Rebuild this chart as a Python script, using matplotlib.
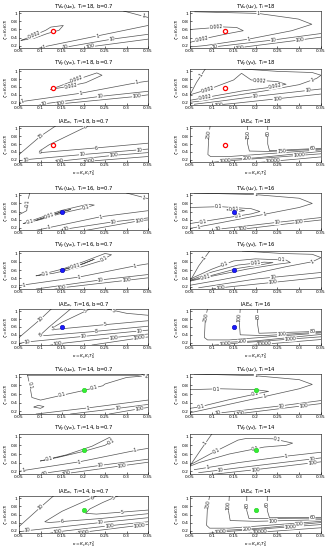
# Contour maps of TV and IAE measures for three tuning points (T_i = 18, 16, 14)
import numpy as np
import matplotlib
matplotlib.use("Agg")
import matplotlib.pyplot as plt

xticks = [0.05, 0.1, 0.15, 0.2, 0.25, 0.3, 0.35]
xtick_labels = ['0.05', '0.1', '0.15', '0.2', '0.25', '0.3', '0.35']
yticks = [0.2, 0.4, 0.6, 0.8, 1.0]
ytick_labels = ['0.2', '0.4', '0.6', '0.8', '1']

# tuning points marked in each group
points = {18: (0.13, 0.57), 16: (0.15, 0.60), 14: (0.20, 0.70)}

# each contour: (level text, x points, y points, label spots)
p1_lines = [
    ('0.002', [0.055, 0.082, 0.112, 0.124, 0.153, 0.143, 0.116, 0.085, 0.055],
     [0.33, 0.44, 0.58, 0.66, 0.70, 0.58, 0.50, 0.38, 0.33], [(0.085, 0.46)]),
    ('1', [0.085, 0.108, 0.232, 0.35], [0.10, 0.17, 0.44, 0.70], [(0.108, 0.18), (0.232, 0.44)]),
    ('10', [0.143, 0.158, 0.266, 0.35], [0.10, 0.16, 0.36, 0.48], [(0.158, 0.17), (0.266, 0.36)]),
    ('100', [0.193, 0.216, 0.35], [0.10, 0.17, 0.36], [(0.216, 0.17)]),
    ('1', [0.293, 0.35], [1.06, 0.90], [(0.338, 0.93)]),
]
p2_lines = [
    ('1', [0.061, 0.206, 0.298, 0.329, 0.283, 0.184, 0.084, 0.054],
     [1.04, 1.0, 0.86, 0.73, 0.57, 0.36, 0.20, 0.17], [(0.206, 1.0), (0.184, 0.36)]),
    ('0.002', [0.05, 0.126, 0.157, 0.172, 0.138, 0.077, 0.05],
     [0.60, 0.664, 0.65, 0.57, 0.50, 0.36, 0.28], [(0.11, 0.66), (0.077, 0.36)]),
    ('10', [0.092, 0.107, 0.241, 0.35], [0.12, 0.17, 0.34, 0.50], [(0.107, 0.17), (0.241, 0.34)]),
    ('100', [0.145, 0.164, 0.302, 0.35], [0.10, 0.15, 0.34, 0.41], [(0.164, 0.16), (0.302, 0.34)]),
]
p3_lines = [
    ('0.002', [0.124, 0.185, 0.231, 0.243, 0.205, 0.162, 0.124],
     [0.54, 0.79, 0.96, 0.90, 0.71, 0.61, 0.54], [(0.185, 0.79), (0.17, 0.63)]),
    ('1', [0.05, 0.058, 0.193, 0.324, 0.35], [0.20, 0.23, 0.44, 0.71, 0.75],
     [(0.058, 0.23), (0.193, 0.44), (0.324, 0.71)]),
    ('10', [0.095, 0.108, 0.239, 0.35], [0.13, 0.17, 0.36, 0.49], [(0.108, 0.17), (0.239, 0.36)]),
    ('100', [0.13, 0.147, 0.324, 0.35], [0.12, 0.17, 0.36, 0.40], [(0.147, 0.17), (0.324, 0.36)]),
]
p4_lines = [
    ('1', [0.05, 0.065, 0.085], [0.40, 0.72, 1.06], [(0.075, 0.9)]),
    ('0.002', [0.05, 0.10, 0.15, 0.168, 0.19, 0.25, 0.27, 0.24, 0.17, 0.10, 0.05],
     [0.40, 0.57, 0.78, 0.95, 0.78, 0.74, 0.67, 0.60, 0.50, 0.36, 0.26],
     [(0.21, 0.765), (0.245, 0.61), (0.09, 0.54), (0.085, 0.33)]),
    ('1', [0.17, 0.25, 0.33, 0.35, 0.34, 0.30, 0.22, 0.14, 0.08, 0.05],
     [1.06, 1.0, 0.97, 0.90, 0.82, 0.66, 0.50, 0.36, 0.25, 0.21], [(0.33, 0.75)]),
    ('10', [0.06, 0.12, 0.2, 0.35], [0.16, 0.24, 0.36, 0.55], [(0.2, 0.36), (0.32, 0.51)]),
    ('100', [0.10, 0.15, 0.25, 0.35], [0.13, 0.18, 0.30, 0.42], [(0.115, 0.15), (0.25, 0.30)]),
]
p5_lines = [
    ('15', [0.05, 0.10, 0.135], [0.33, 0.80, 1.06], [(0.10, 0.80)]),
    ('6', [0.21, 0.12, 0.095, 0.10, 0.23, 0.35], [1.06, 0.58, 0.40, 0.38, 0.50, 0.62],
     [(0.205, 1.0), (0.23, 0.50), (0.097, 0.39)]),
    ('10', [0.05, 0.066, 0.197, 0.35], [0.17, 0.20, 0.33, 0.47],
     [(0.066, 0.2), (0.197, 0.33), (0.33, 0.45)]),
    ('100', [0.13, 0.143, 0.27, 0.35], [0.12, 0.16, 0.31, 0.38], [(0.143, 0.16), (0.27, 0.31)]),
    ('1000', [0.19, 0.212, 0.35], [0.11, 0.16, 0.28], [(0.212, 0.16)]),
]
p6_lines = [
    ('250', [0.096, 0.093, 0.091, 0.097, 0.14, 0.35], [1.06, 0.80, 0.33, 0.28, 0.28, 0.45], [(0.093, 0.85)]),
    ('150', [0.182, 0.182, 0.186, 0.23, 0.35], [1.06, 0.60, 0.42, 0.41, 0.47], [(0.182, 0.85), (0.26, 0.42)]),
    ('60', [0.228, 0.228, 0.232, 0.35], [1.06, 0.60, 0.43, 0.49], [(0.228, 0.87), (0.33, 0.48)]),
    ('200', [0.12, 0.2, 0.35], [0.20, 0.245, 0.41], [(0.18, 0.23)]),
    ('1000', [0.10, 0.13, 0.35], [0.13, 0.165, 0.35], [(0.13, 0.165), (0.3, 0.31)]),
    ('10000', [0.2, 0.24, 0.35], [0.12, 0.16, 0.27], [(0.24, 0.16)]),
]
p7_lines = [
    ('0.1', [0.075, 0.07, 0.068, 0.05], [1.06, 0.85, 0.62, 0.52], [(0.07, 0.82)]),
    ('0.1', [0.06, 0.10, 0.15, 0.21, 0.225, 0.20, 0.15, 0.10, 0.06],
     [0.30, 0.45, 0.63, 0.78, 0.76, 0.68, 0.56, 0.40, 0.30], [(0.205, 0.69), (0.075, 0.34)]),
    ('0.01', [0.09, 0.13, 0.15, 0.17, 0.15, 0.12, 0.09],
     [0.38, 0.53, 0.60, 0.65, 0.59, 0.48, 0.38], [(0.12, 0.51)]),
    ('1', [0.30, 0.35], [1.06, 0.92], [(0.34, 0.95)]),
    ('1', [0.085, 0.12, 0.24, 0.35], [0.12, 0.20, 0.47, 0.62], [(0.12, 0.20), (0.24, 0.47)]),
    ('10', [0.14, 0.16, 0.27, 0.35], [0.12, 0.165, 0.345, 0.44], [(0.16, 0.165), (0.27, 0.345)]),
    ('100', [0.2, 0.33, 0.35], [0.12, 0.37, 0.39], [(0.33, 0.37)]),
]
p8_lines = [
    ('1', [0.06, 0.2, 0.3, 0.33, 0.30, 0.22, 0.12, 0.06, 0.05],
     [1.06, 1.02, 0.93, 0.80, 0.70, 0.53, 0.32, 0.20, 0.18], [(0.2, 1.02), (0.22, 0.53), (0.07, 0.22)]),
    ('0.1', [0.05, 0.12, 0.19, 0.21, 0.19, 0.12, 0.05], [0.70, 0.72, 0.67, 0.60, 0.54, 0.42, 0.30],
     [(0.115, 0.72), (0.16, 0.49), (0.08, 0.36)]),
    ('0.01', [0.135, 0.16, 0.175, 0.16, 0.135], [0.64, 0.655, 0.62, 0.60, 0.64], [(0.15, 0.655)]),
    ('10', [0.10, 0.115, 0.25, 0.35], [0.12, 0.16, 0.33, 0.45], [(0.115, 0.16), (0.25, 0.33)]),
    ('100', [0.15, 0.17, 0.30, 0.35], [0.12, 0.16, 0.33, 0.39], [(0.17, 0.16), (0.30, 0.33)]),
]
p9_lines = [
    ('0.1', [0.09, 0.15, 0.2, 0.25, 0.265, 0.24, 0.19, 0.13, 0.09],
     [0.46, 0.62, 0.80, 1.0, 0.97, 0.82, 0.66, 0.52, 0.46], [(0.247, 0.87), (0.112, 0.49)]),
    ('0.01', [0.15, 0.19, 0.225, 0.20, 0.16, 0.15], [0.60, 0.72, 0.86, 0.75, 0.63, 0.60], [(0.18, 0.70)]),
    ('1', [0.05, 0.062, 0.19, 0.32, 0.35], [0.22, 0.24, 0.43, 0.70, 0.75],
     [(0.062, 0.24), (0.19, 0.43), (0.32, 0.70)]),
    ('10', [0.09, 0.24, 0.35], [0.14, 0.36, 0.49], [(0.24, 0.36)]),
    ('100', [0.13, 0.15, 0.30, 0.35], [0.13, 0.17, 0.35, 0.41], [(0.15, 0.17), (0.30, 0.35)]),
]
p10_lines = [
    ('1', [0.05, 0.07, 0.095], [0.33, 0.70, 1.06], [(0.082, 0.90)]),
    ('1', [0.17, 0.26, 0.33, 0.35, 0.33, 0.27, 0.2, 0.12, 0.06, 0.05],
     [1.06, 1.0, 0.98, 0.90, 0.80, 0.68, 0.52, 0.36, 0.25, 0.23], [(0.33, 0.80)]),
    ('0.1', [0.05, 0.10, 0.15, 0.20, 0.27, 0.28, 0.25, 0.18, 0.10, 0.05],
     [0.38, 0.62, 0.82, 0.87, 0.84, 0.78, 0.74, 0.62, 0.45, 0.33], [(0.13, 0.75), (0.26, 0.85)]),
    ('0.01', [0.05, 0.10, 0.16, 0.22, 0.24, 0.22, 0.16, 0.10, 0.05],
     [0.35, 0.55, 0.72, 0.79, 0.78, 0.74, 0.64, 0.47, 0.34], [(0.20, 0.77), (0.085, 0.43)]),
    ('10', [0.07, 0.2, 0.35], [0.17, 0.38, 0.54], [(0.24, 0.43)]),
    ('100', [0.1, 0.12, 0.24, 0.35], [0.14, 0.17, 0.30, 0.42], [(0.12, 0.17), (0.24, 0.30)]),
]
p11_lines = [
    ('10', [0.05, 0.10, 0.125], [0.33, 0.80, 1.06], [(0.10, 0.80)]),
    ('5', [0.215, 0.15, 0.125, 0.135, 0.25, 0.35], [1.06, 0.72, 0.56, 0.54, 0.66, 0.76],
     [(0.205, 1.0), (0.25, 0.66), (0.128, 0.56)]),
    ('5', [0.255, 0.30, 0.35], [1.06, 0.95, 0.90], [(0.27, 1.02)]),
    ('8', [0.17, 0.12, 0.10, 0.11, 0.22, 0.35], [1.06, 0.60, 0.40, 0.38, 0.48, 0.62],
     [(0.10, 0.40), (0.23, 0.49)]),
    ('10', [0.05, 0.07, 0.2, 0.35], [0.18, 0.22, 0.36, 0.52], [(0.07, 0.22), (0.2, 0.36), (0.33, 0.50)]),
    ('100', [0.12, 0.14, 0.27, 0.35], [0.13, 0.17, 0.33, 0.42], [(0.14, 0.17), (0.27, 0.33)]),
    ('1000', [0.22, 0.33, 0.35], [0.14, 0.32, 0.345], [(0.33, 0.32)]),
]
p12_lines = [
    ('250', [0.09, 0.085, 0.083, 0.09, 0.14, 0.35], [1.06, 0.80, 0.33, 0.27, 0.27, 0.45], [(0.085, 0.85)]),
    ('100', [0.165, 0.163, 0.165, 0.22, 0.35], [1.06, 0.70, 0.40, 0.38, 0.47], [(0.163, 0.84), (0.26, 0.41)]),
    ('80', [0.205, 0.205, 0.208, 0.35], [1.06, 0.65, 0.44, 0.49], [(0.205, 0.88), (0.33, 0.485)]),
    ('200', [0.12, 0.2, 0.35], [0.20, 0.245, 0.41], [(0.17, 0.23)]),
    ('1000', [0.10, 0.13, 0.35], [0.13, 0.165, 0.35], [(0.13, 0.165), (0.28, 0.29)]),
    ('10000', [0.18, 0.22, 0.35], [0.12, 0.16, 0.28], [(0.22, 0.16)]),
]
p13_lines = [
    ('0.1', [0.07, 0.075, 0.08, 0.10, 0.14, 0.20, 0.245, 0.25, 0.30, 0.335, 0.32, 0.07],
     [1.03, 0.80, 0.52, 0.46, 0.55, 0.68, 0.79, 0.83, 0.98, 1.01, 1.03, 1.03],
     [(0.075, 0.80), (0.15, 0.575), (0.225, 0.74)]),
    ('1', [0.335, 0.35], [1.06, 0.98], [(0.345, 1.0)]),
    ('0.1', [0.085, 0.10, 0.108, 0.095, 0.085], [0.30, 0.27, 0.31, 0.34, 0.30], []),
    ('1', [0.09, 0.21, 0.35], [0.14, 0.28, 0.46], [(0.21, 0.28)]),
    ('10', [0.17, 0.28, 0.35], [0.14, 0.27, 0.36], [(0.28, 0.27)]),
    ('100', [0.26, 0.33, 0.35], [0.14, 0.26, 0.29], [(0.33, 0.26)]),
]
p14_lines = [
    ('1', [0.06, 0.2, 0.3, 0.33, 0.30, 0.22, 0.12, 0.06, 0.05],
     [1.06, 1.02, 0.93, 0.82, 0.72, 0.54, 0.32, 0.19, 0.17], [(0.2, 1.02), (0.22, 0.54)]),
    ('0.1', [0.05, 0.12, 0.2, 0.23, 0.21, 0.14, 0.07, 0.05], [0.70, 0.72, 0.70, 0.66, 0.62, 0.47, 0.30, 0.27],
     [(0.11, 0.72), (0.2, 0.605), (0.075, 0.31)]),
    ('10', [0.10, 0.115, 0.26, 0.35], [0.12, 0.16, 0.33, 0.45], [(0.115, 0.16), (0.26, 0.33)]),
    ('100', [0.15, 0.165, 0.31, 0.35], [0.12, 0.15, 0.33, 0.38], [(0.165, 0.15), (0.31, 0.33)]),
]
p15_lines = [
    ('0.1', [0.10, 0.16, 0.22, 0.26, 0.27, 0.25, 0.20, 0.14, 0.10],
     [0.44, 0.58, 0.78, 0.98, 0.92, 0.80, 0.66, 0.52, 0.44], [(0.265, 0.90), (0.12, 0.48)]),
    ('1', [0.05, 0.06, 0.19, 0.32, 0.35], [0.20, 0.22, 0.42, 0.68, 0.73],
     [(0.06, 0.22), (0.19, 0.42), (0.32, 0.68)]),
    ('10', [0.10, 0.11, 0.24, 0.35], [0.12, 0.16, 0.34, 0.48], [(0.11, 0.16), (0.24, 0.34)]),
    ('100', [0.15, 0.16, 0.29, 0.35], [0.12, 0.15, 0.33, 0.41], [(0.16, 0.15), (0.29, 0.33)]),
]
p16_lines = [
    ('1', [0.05, 0.075, 0.10], [0.33, 0.70, 1.06], [(0.085, 0.85)]),
    ('0.1', [0.05, 0.10, 0.16, 0.18, 0.24, 0.285, 0.27, 0.22, 0.14, 0.07, 0.05],
     [0.35, 0.62, 0.92, 0.96, 0.95, 0.85, 0.80, 0.76, 0.60, 0.40, 0.32],
     [(0.11, 0.67), (0.25, 0.94), (0.20, 0.73)]),
    ('1', [0.06, 0.16, 0.27, 0.35], [0.24, 0.40, 0.55, 0.64], [(0.27, 0.55), (0.09, 0.29)]),
    ('10', [0.07, 0.2, 0.35], [0.17, 0.33, 0.51], [(0.12, 0.23), (0.33, 0.49)]),
    ('100', [0.1, 0.2, 0.35], [0.13, 0.24, 0.42], [(0.2, 0.24), (0.33, 0.40)]),
]
p17_lines = [
    ('10', [0.05, 0.10, 0.13], [0.30, 0.78, 1.06], [(0.10, 0.78)]),
    ('6', [0.23, 0.15, 0.11, 0.12, 0.24, 0.35], [1.06, 0.68, 0.42, 0.40, 0.50, 0.62],
     [(0.22, 1.0), (0.15, 0.45)]),
    ('5', [0.28, 0.245, 0.215, 0.205, 0.23, 0.35], [1.06, 0.90, 0.74, 0.63, 0.61, 0.71],
     [(0.27, 1.02), (0.29, 0.66)]),
    ('10', [0.05, 0.07, 0.24, 0.35], [0.17, 0.20, 0.40, 0.52], [(0.07, 0.20), (0.24, 0.40)]),
    ('100', [0.12, 0.14, 0.26, 0.35], [0.13, 0.17, 0.32, 0.42], [(0.14, 0.17), (0.26, 0.32)]),
    ('1000', [0.18, 0.20, 0.33, 0.35], [0.13, 0.16, 0.33, 0.35], [(0.20, 0.16), (0.33, 0.33)]),
]
p18_lines = [
    ('250', [0.095, 0.09, 0.088, 0.095, 0.14, 0.35], [1.06, 0.8, 0.33, 0.26, 0.26, 0.43], [(0.09, 0.85)]),
    ('100', [0.14, 0.138, 0.142, 0.2, 0.35], [1.06, 0.7, 0.45, 0.43, 0.47], [(0.139, 0.82), (0.24, 0.44)]),
    ('80', [0.18, 0.18, 0.185, 0.35], [1.06, 0.7, 0.50, 0.51], [(0.18, 0.85)]),
    ('60', [0.227, 0.227, 0.232, 0.35], [1.06, 0.7, 0.52, 0.53], [(0.227, 0.85), (0.33, 0.53)]),
    ('200', [0.12, 0.2, 0.35], [0.20, 0.25, 0.40], [(0.18, 0.24), (0.30, 0.35)]),
    ('1000', [0.09, 0.12, 0.35], [0.13, 0.165, 0.35], [(0.12, 0.165), (0.28, 0.29)]),
    ('10000', [0.17, 0.21, 0.35], [0.12, 0.16, 0.27], [(0.21, 0.16)]),
]

titles_left = [r'TV$_u$(u$_w$), T$_i$={}, b=0.7', r'TV$_y$(y$_w$), T$_i$={}, b=0.7', r'IAE$_w$, T$_i$={}, b=0.7']
titles_right = [r'TV$_u$(u$_d$), T$_i$={}', r'TV$_y$(y$_d$), T$_i$={}', r'IAE$_d$, T$_i$={}']

groups = [18, 16, 14]
panel_lines = [
    [p1_lines, p2_lines, p3_lines, p4_lines, p5_lines, p6_lines],
    [p7_lines, p8_lines, p9_lines, p10_lines, p11_lines, p12_lines],
    [p13_lines, p14_lines, p15_lines, p16_lines, p17_lines, p18_lines],
]

# axes boxes in pixels (top, bottom) for each row
row_px = [[(11, 48), (69, 105), (126, 162)],
          [(193, 230), (251, 289), (309, 345)],
          [(374, 414), (434, 474), (496, 533)]]
col_px = [(19, 148), (190, 321)]
W, H = 332, 550

marker_style = {
    18: dict(marker='o', ms=3.0, mfc='white', mec='red', mew=0.9),
    16: dict(marker='o', ms=3.2, mfc='#1a1aff', mec='#0000aa', mew=0.4),
    14: dict(marker='o', ms=3.2, mfc='#33ee33', mec='#22cc22', mew=0.4),
}


def put_label(ax, xs, ys, px, py, txt):
    pts = ax.transData.transform(np.column_stack([xs, ys]))
    p = ax.transData.transform((px, py))
    best = None
    for a, b in zip(pts[:-1], pts[1:]):
        d = b - a
        L2 = d @ d
        t = 0.0 if L2 == 0 else np.clip((p - a) @ d / L2, 0, 1)
        q = a + t * d
        dist = np.hypot(*(p - q))
        if best is None or dist < best[0]:
            best = (dist, q, d)
    _, q, d = best
    ang = np.degrees(np.arctan2(d[1], d[0]))
    if ang > 90:
        ang -= 180
    if ang <= -90:
        ang += 180
    qx, qy = ax.transData.inverted().transform(q)
    ax.text(qx, qy, txt, rotation=ang, rotation_mode='anchor', ha='center', va='center',
            fontsize=3.4, color='#222222', zorder=3, clip_on=True,
            bbox=dict(fc='white', ec='none', pad=0.15))


fig = plt.figure(figsize=(W / 100, H / 100), dpi=100)

for g, T in enumerate(groups):
    for r in range(3):
        for c in range(2):
            top, bot = row_px[g][r]
            x0, x1 = col_px[c]
            ax = fig.add_axes([x0 / W, 1 - bot / H, (x1 - x0) / W, (bot - top) / H])
            ax.set_xlim(0.05, 0.35)
            ax.set_ylim(0.14, 1.06)
            lines = panel_lines[g][2 * r + c]
            for txt, xs, ys, spots in lines:
                ax.plot(xs, ys, color='#555555', lw=0.5, zorder=2)
            for txt, xs, ys, spots in lines:
                for sx, sy in spots:
                    put_label(ax, xs, ys, sx, sy, txt)
            mx, my = points[T]
            ax.plot([mx], [my], ls='none', zorder=4, **marker_style[T])
            title = (titles_left if c == 0 else titles_right)[r].format(T)
            ax.set_title(title, fontsize=3.8, pad=1.2)
            ax.set_xticks(xticks)
            ax.set_xticklabels(xtick_labels)
            ax.set_yticks(yticks)
            ax.set_yticklabels(ytick_labels)
            ax.tick_params(direction='in', length=1.5, width=0.4, labelsize=3.2, pad=1)
            for s in ax.spines.values():
                s.set_linewidth(0.4)
            ax.set_ylabel(r'$\zeta=K_cK_iT_i$', fontsize=3.2, labelpad=0.5)
            if r == 2:
                ax.set_xlabel(r'$\kappa=K_cK_iT_u^2$', fontsize=3.2, labelpad=1)

fig.savefig('out.png', dpi=100)
